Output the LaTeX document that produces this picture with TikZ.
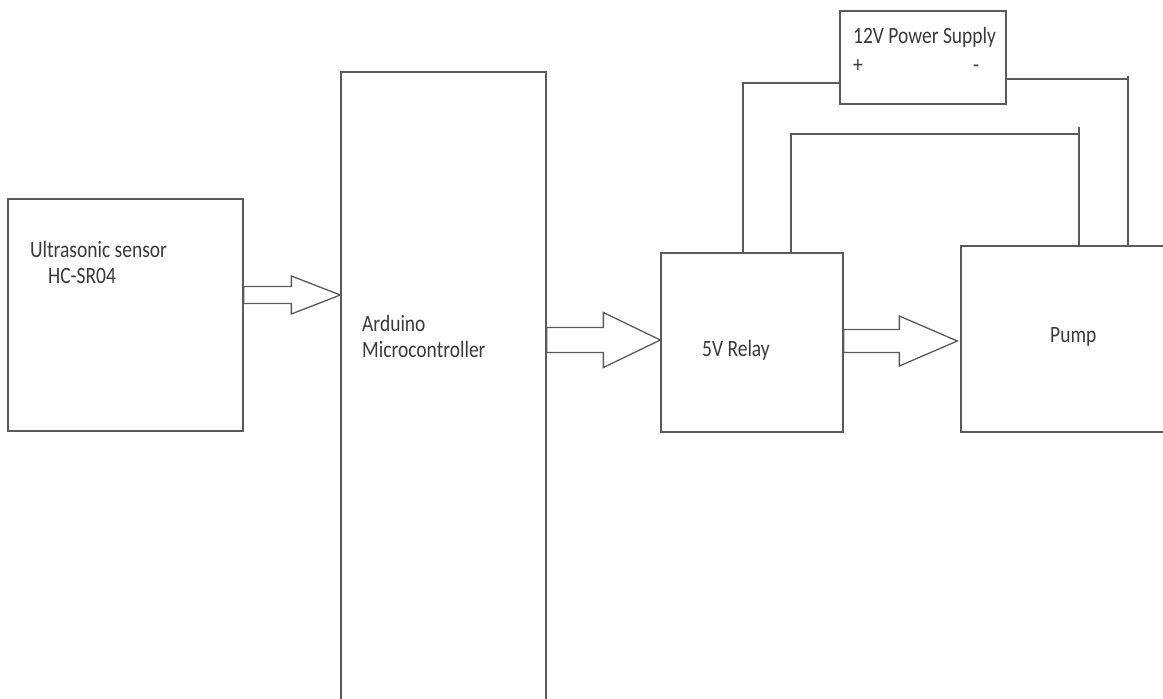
\documentclass[tikz,border=0pt]{standalone}
\usepackage{fontspec}
\usepackage{graphicx}
\setmainfont{Carlito}
\usetikzlibrary{calc}
\definecolor{linegray}{HTML}{5A5A5A}
\definecolor{textgray}{HTML}{3A3A3A}
\newcommand{\blockarrow}[5]{%
  \draw[blockarr] ($(#1)+(0,-#3)$) -- ($(#2)+(-#5,-#3)$) -- ($(#2)+(-#5,-#4)$) -- (#2)
    -- ($(#2)+(-#5,#4)$) -- ($(#2)+(-#5,#3)$) -- ($(#1)+(0,#3)$) -- cycle;}
\newcommand{\lbl}[1]{\scalebox{1}[1.2]{#1}}
\begin{document}
\begin{tikzpicture}[x=1pt,y=-1pt,
  box/.style={draw=linegray, line width=1.3pt, inner sep=0pt, fill=none},
  blockarr/.style={draw=linegray, line width=1.3pt, line join=miter},
  wire/.style={draw=linegray, line width=1.3pt},
  txt/.style={anchor=base west, inner sep=0pt, text=textgray, font=\fontsize{19.5}{23}\selectfont}]
\useasboundingbox (0,0) rectangle (1163,699);
\clip (0,0) rectangle (1163,699);
\fill[white] (0,0) rectangle (1163,699);
% boxes
\node[box, minimum width=235pt, minimum height=232pt] (sensor) at (125.5,315) {};
\node[box, minimum width=205pt, minimum height=658pt] (arduino) at (443.5,401) {};
\node[box, minimum width=182pt, minimum height=179pt] (relay) at (752,342.5) {};
\node[box, minimum width=239pt, minimum height=186pt] (pump) at (1080.5,339) {};
\node[box, minimum width=166pt, minimum height=93pt] (ps) at (923,57.5) {};
% labels
\node[txt] (t1) at (30,257) {\lbl{Ultrasonic sensor}};
\node[txt] (t2) at (48,283) {\lbl{HC-SR04}};
\node[txt] (t3) at (362,331) {\lbl{Arduino}};
\node[txt] (t4) at (362,357) {\lbl{Microcontroller}};
\node[txt] (t5) at (702,356) {\lbl{5V Relay}};
\node[txt] (t6) at (1050,342) {\lbl{Pump}};
\node[txt] (t7) at (853,43) {\lbl{12V Power Supply}};
\node[txt] (t8) at (853,72) {\lbl{+}};
\node[txt] (t9) at (973,72) {\lbl{-}};
% block arrows
\coordinate (r1) at (0,295);
\coordinate (r2) at (0,340);
\coordinate (r3) at (0,341);
\coordinate (a1t) at (sensor.east |- r1);
\coordinate (a1h) at (arduino.west |- r1);
\coordinate (a2t) at (arduino.east |- r2);
\coordinate (a2h) at (relay.west |- r2);
\coordinate (a3t) at (relay.east |- r3);
\coordinate (a3h) at ($(pump.west |- r3)+(-3,0)$);
\blockarrow{a1t}{a1h}{8.5}{19}{49}
\blockarrow{a2t}{a2h}{12.5}{27.5}{57}
\blockarrow{a3t}{a3h}{11.5}{25}{58}
% wires
\coordinate (x1) at (743,0);
\coordinate (x2) at (791,0);
\coordinate (x3) at (1079,0);
\coordinate (x4) at (1128,0);
\coordinate (y1) at (0,83);
\coordinate (y2) at (0,79);
\coordinate (y3) at (0,134);
\coordinate (w1) at (relay.north -| x1);
\coordinate (w2) at (relay.north -| x2);
\coordinate (w3) at (pump.north -| x3);
\coordinate (w4) at (pump.north -| x4);
\draw[wire] (w1) |- (ps.west |- y1);
\draw[wire] (ps.east |- y2) -| (w4);
\draw[wire] (w2) |- (x3 |- y3);
\draw[wire] (w3) -- ($(x3 |- y3)+(0,-7)$);
\draw[wire] (w4) -- ($(x4 |- y2)+(0,-3)$);
\end{tikzpicture}
\end{document}
